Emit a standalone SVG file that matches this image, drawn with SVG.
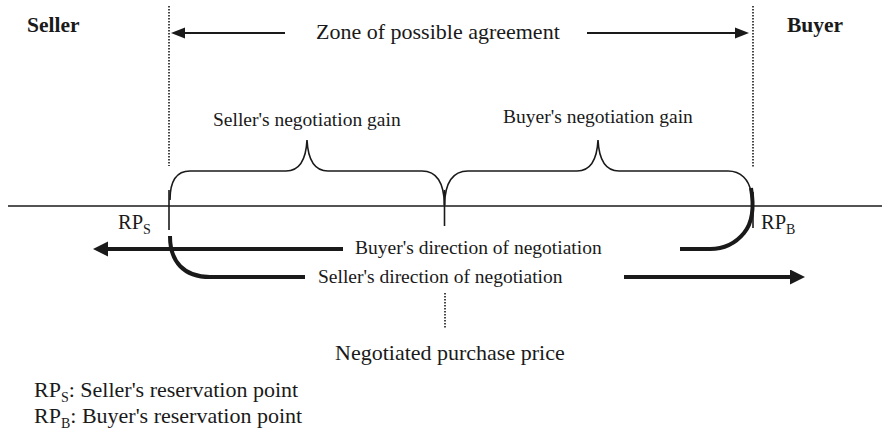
<svg xmlns="http://www.w3.org/2000/svg" width="887" height="431" viewBox="0 0 887 431">
  <style>
    text { font-family: "Liberation Serif", "Times New Roman", serif; fill: #1a1a1a; }
    .big { font-size: 22px; }
    .bold { font-size: 21.5px; font-weight: bold; }
    .lbl { font-size: 19.5px; }
    .rp { font-size: 20.5px; }
    .leg { font-size: 22px; }
    .sub { font-size: 14px; }
    .thin { fill: none; stroke: #1a1a1a; stroke-width: 1.6; }
    .thick { fill: none; stroke: #1a1a1a; stroke-width: 4; }
    .dot { fill: none; stroke: #1a1a1a; stroke-width: 1.6; stroke-dasharray: 1.5 1.5; }
    .arr { fill: none; stroke: #1a1a1a; stroke-width: 2.2; }
  </style>
  <defs>
    <marker id="headSmall" markerUnits="userSpaceOnUse" markerWidth="15" markerHeight="12" refX="4" refY="6" orient="auto">
      <path d="M0,0.5 L14,6 L0,11.5 Z" fill="#1a1a1a"/>
    </marker>
    <marker id="headLarge" markerUnits="userSpaceOnUse" markerWidth="16" markerHeight="16" refX="5" refY="7.5" orient="auto">
      <path d="M0,0 L15,7.5 L0,15 Z" fill="#1a1a1a"/>
    </marker>
  </defs>

  <g id="parties">
    <text class="bold" x="27" y="32">Seller</text>
    <text class="bold" x="787" y="32">Buyer</text>
  </g>

  <g id="zopa">
    <text class="big" x="316" y="39">Zone of possible agreement</text>
  </g>

  <g id="gains">
    <text class="lbl" x="213" y="126">Seller's negotiation gain</text>
    <text class="lbl" x="503" y="123">Buyer's negotiation gain</text>
  </g>

  <g id="rp-seller">
    <text class="rp" x="118" y="229">RP<tspan class="sub" dy="5">S</tspan></text>
  </g>
  <g id="rp-buyer">
    <text class="rp" x="761" y="229">RP<tspan class="sub" dy="5">B</tspan></text>
  </g>

  <g id="directions">
    <text class="lbl" x="355" y="254">Buyer's direction of negotiation</text>
    <text class="lbl" x="318" y="283">Seller's direction of negotiation</text>
  </g>

  <g id="price">
    <text class="big" x="335" y="360">Negotiated purchase price</text>
  </g>

  <g id="legend">
    <text class="leg" x="34" y="397">RP<tspan class="sub" dy="5">S</tspan><tspan dy="-5">: Seller's reservation point</tspan></text>
    <text class="leg" x="34" y="423">RP<tspan class="sub" dy="5">B</tspan><tspan dy="-5">: Buyer's reservation point</tspan></text>
  </g>

  <g id="connectors">
    <!-- price axis -->
    <line class="thin" x1="8" y1="206" x2="882" y2="206"/>
    <!-- zone boundaries -->
    <line class="dot" x1="169" y1="6" x2="169" y2="166"/>
    <line class="dot" x1="753" y1="6" x2="753" y2="167"/>
    <line class="dot" x1="445" y1="293" x2="445" y2="328"/>
    <!-- zone arrows -->
    <line class="arr" x1="285" y1="33" x2="181" y2="33" marker-end="url(#headSmall)"/>
    <line class="arr" x1="587" y1="33" x2="739" y2="33" marker-end="url(#headSmall)"/>
    <!-- reservation and agreement ticks -->
    <line class="thin" x1="169" y1="190" x2="169" y2="230"/>
    <line class="thin" x1="444.5" y1="190" x2="444.5" y2="226"/>
    <line class="thin" x1="753" y1="192" x2="753" y2="228"/>
    <!-- gain braces -->
    <path class="thin" d="M170,200 C170,182 176,171 190,171 L286,171 C300,171 306,160 307,140 C308,160 314,171 328,171 L422,171 C436,171 444,182 444.5,205"/>
    <path class="thin" d="M444.5,205 C445,182 453,171 468,171 L577,171 C591,171 597,160 598,140 C599,160 605,171 619,171 L728,171 C741,171 749,180 751,192"/>
    <!-- directions of negotiation -->
    <path class="thick" d="M751,188 C754,205 753,222 744,233 C735,244 724,249 710,249 L680,249"/>
    <line class="thick" x1="343" y1="249" x2="103" y2="249" marker-end="url(#headLarge)"/>
    <path class="thick" d="M170,236 C170,262 184,277 210,277 L305,277"/>
    <line class="thick" x1="624" y1="277" x2="795" y2="277" marker-end="url(#headLarge)"/>
  </g>
</svg>
